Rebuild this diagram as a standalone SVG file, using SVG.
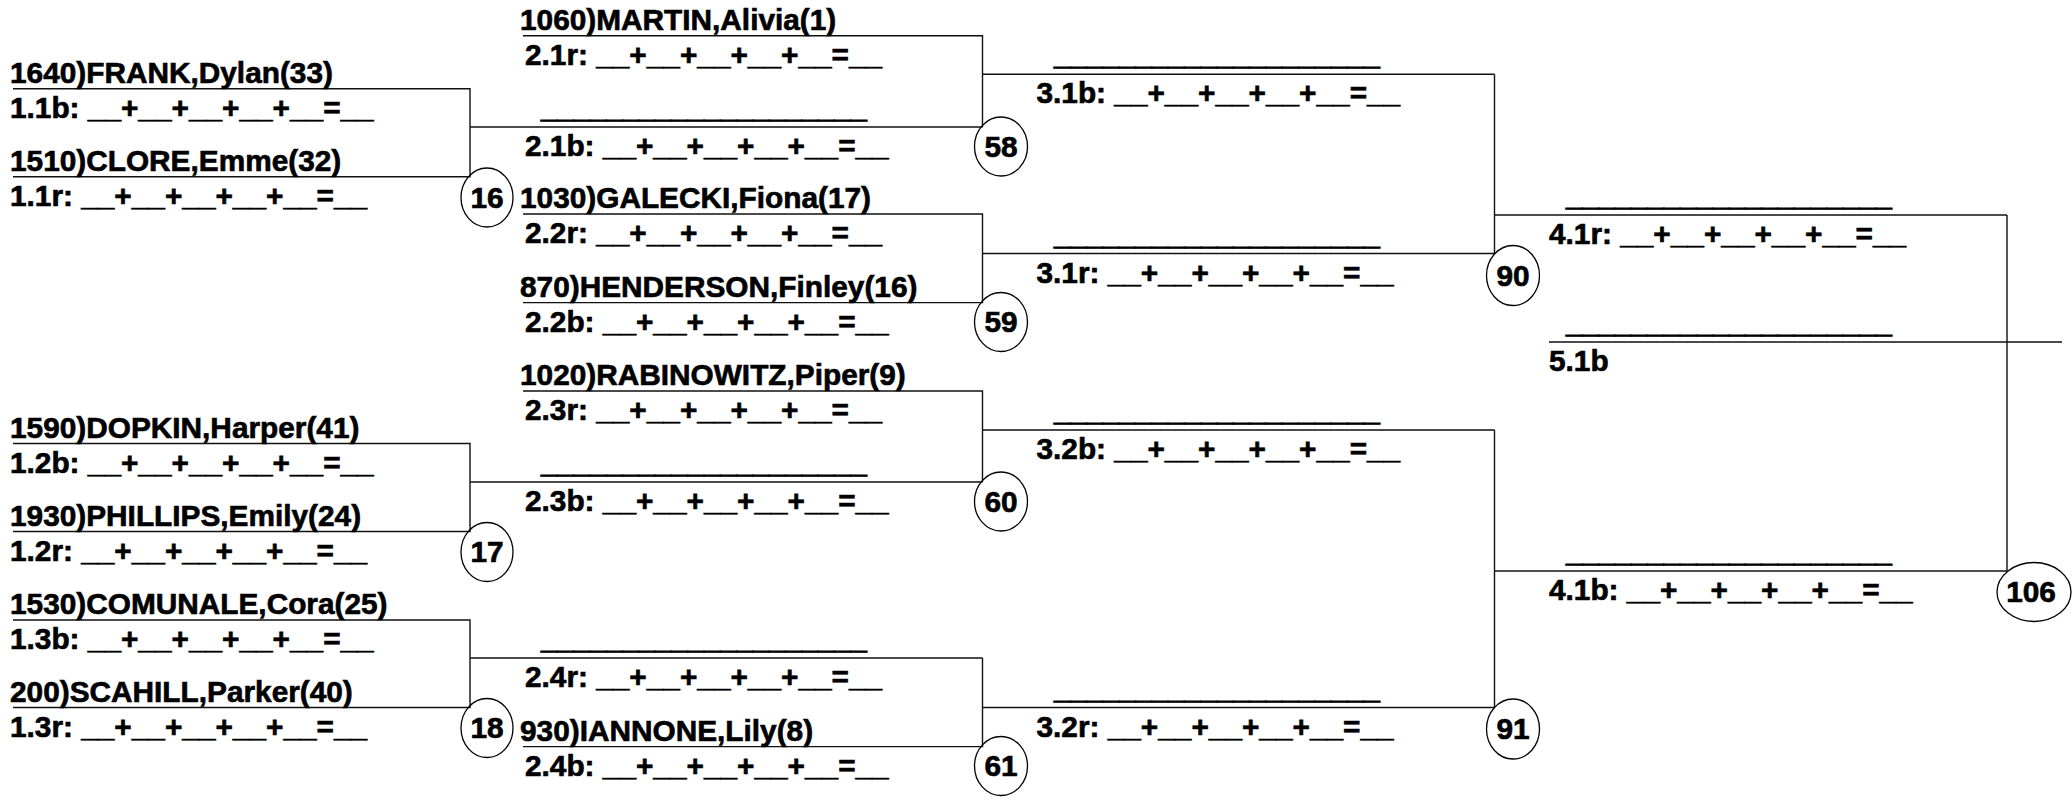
<svg xmlns="http://www.w3.org/2000/svg" width="2072" height="801" viewBox="0 0 2072 801">
<style>
.t{font-family:"Liberation Sans",Arial,sans-serif;font-weight:bold;font-size:29.8px;fill:#000;stroke:#000;stroke-width:0.65}
.u{font-size:29.3px;stroke-width:1.1}
.m{text-anchor:middle}
.ln{stroke:#111;stroke-width:1.4;fill:none}
.c{fill:none;stroke:#000;stroke-width:1.3}
</style>
<rect width="2072" height="801" fill="#fff"/>
<g id="connectors" class="ln">
<path d="M13 88.7H470V176.7H13M470 127H982.5"/>
<path d="M13 443.5H470V531.5H13M470 482H982.5"/>
<path d="M13 620H470V707.5H13M470 658H982.5"/>
<path d="M523 35.7H982.5V127M982.5 74.3H1494.5"/>
<path d="M523 214H982.5V302.6H523M982.5 253.5H1494.5"/>
<path d="M523 391H982.5V482M982.5 430H1494.5"/>
<path d="M982.5 658V746.6H523M982.5 707.5H1494.5"/>
<path d="M1494.5 74.3V253.5M1494.5 215H2007"/>
<path d="M1494.5 430V707.5M1494.5 571H2007"/>
<path d="M2007 215V571M1549 342H2062"/>
</g>
<g id="r1-1-top"><text class="t" x="10" y="82.7">1640)FRANK,Dylan(33)</text><text class="t" x="10" y="118">1.1b: __+__+__+__+__=__</text></g>
<g id="r1-1-bot"><text class="t" x="10" y="170.7">1510)CLORE,Emme(32)</text><text class="t" x="10" y="206">1.1r: __+__+__+__+__=__</text></g>
<g id="r1-2-top"><text class="t" x="10" y="437.5">1590)DOPKIN,Harper(41)</text><text class="t" x="10" y="472.5">1.2b: __+__+__+__+__=__</text></g>
<g id="r1-2-bot"><text class="t" x="10" y="525.5">1930)PHILLIPS,Emily(24)</text><text class="t" x="10" y="560.5">1.2r: __+__+__+__+__=__</text></g>
<g id="r1-3-top"><text class="t" x="10" y="614">1530)COMUNALE,Cora(25)</text><text class="t" x="10" y="649">1.3b: __+__+__+__+__=__</text></g>
<g id="r1-3-bot"><text class="t" x="10" y="701.5">200)SCAHILL,Parker(40)</text><text class="t" x="10" y="736.5">1.3r: __+__+__+__+__=__</text></g>
<g id="m16"><ellipse class="c" cx="487" cy="197.5" rx="26" ry="29.5"/><text class="t m" x="487" y="207.5">16</text></g>
<g id="m17"><ellipse class="c" cx="487" cy="552" rx="26" ry="29.5"/><text class="t m" x="487" y="562">17</text></g>
<g id="m18"><ellipse class="c" cx="487" cy="728" rx="26" ry="29.5"/><text class="t m" x="487" y="738">18</text></g>
<g id="r2-1-top"><text class="t" x="520" y="29.7">1060)MARTIN,Alivia(1)</text><text class="t" x="525" y="64.7">2.1r: __+__+__+__+__=__</text></g>
<g id="r2-1-bot"><text class="t u" x="541" y="118.3">____________________</text><text class="t" x="525" y="156.3">2.1b: __+__+__+__+__=__</text></g>
<g id="r2-2-top"><text class="t" x="520" y="208">1030)GALECKI,Fiona(17)</text><text class="t" x="525" y="243">2.2r: __+__+__+__+__=__</text></g>
<g id="r2-2-bot"><text class="t" x="520" y="296.6">870)HENDERSON,Finley(16)</text><text class="t" x="525" y="331.6">2.2b: __+__+__+__+__=__</text></g>
<g id="r2-3-top"><text class="t" x="520" y="385">1020)RABINOWITZ,Piper(9)</text><text class="t" x="525" y="420">2.3r: __+__+__+__+__=__</text></g>
<g id="r2-3-bot"><text class="t u" x="541" y="473">____________________</text><text class="t" x="525" y="511">2.3b: __+__+__+__+__=__</text></g>
<g id="r2-4-top"><text class="t u" x="541" y="649">____________________</text><text class="t" x="525" y="687">2.4r: __+__+__+__+__=__</text></g>
<g id="r2-4-bot"><text class="t" x="520" y="740.6">930)IANNONE,Lily(8)</text><text class="t" x="525" y="775.6">2.4b: __+__+__+__+__=__</text></g>
<g id="m58"><ellipse class="c" cx="1001" cy="146.5" rx="26.5" ry="29.5"/><text class="t m" x="1001" y="156.5">58</text></g>
<g id="m59"><ellipse class="c" cx="1001" cy="322" rx="26.5" ry="29.5"/><text class="t m" x="1001" y="332">59</text></g>
<g id="m60"><ellipse class="c" cx="1001" cy="501.5" rx="26.5" ry="29.5"/><text class="t m" x="1001" y="511.5">60</text></g>
<g id="m61"><ellipse class="c" cx="1001" cy="766" rx="26.5" ry="29.5"/><text class="t m" x="1001" y="776">61</text></g>
<g id="r3-1-top"><text class="t u" x="1054" y="65.3">____________________</text><text class="t" x="1036.5" y="103.3">3.1b: __+__+__+__+__=__</text></g>
<g id="r3-1-bot"><text class="t u" x="1054" y="244.5">____________________</text><text class="t" x="1036.5" y="282.5">3.1r: __+__+__+__+__=__</text></g>
<g id="r3-2-top"><text class="t u" x="1054" y="421">____________________</text><text class="t" x="1036.5" y="459">3.2b: __+__+__+__+__=__</text></g>
<g id="r3-2-bot"><text class="t u" x="1054" y="698.5">____________________</text><text class="t" x="1036.5" y="736.5">3.2r: __+__+__+__+__=__</text></g>
<g id="m90"><ellipse class="c" cx="1513" cy="275.5" rx="26.5" ry="30"/><text class="t m" x="1513" y="285.5">90</text></g>
<g id="m91"><ellipse class="c" cx="1513" cy="729" rx="26.5" ry="30"/><text class="t m" x="1513" y="739">91</text></g>
<g id="r4-1-top"><text class="t u" x="1566" y="206">____________________</text><text class="t" x="1549" y="244">4.1r: __+__+__+__+__=__</text></g>
<g id="r5-1"><text class="t u" x="1566" y="333">____________________</text><text class="t" x="1549" y="371">5.1b</text></g>
<g id="r4-1-bot"><text class="t u" x="1566" y="562">____________________</text><text class="t" x="1549" y="600">4.1b: __+__+__+__+__=__</text></g>
<g id="m106"><ellipse class="c" cx="2034" cy="592" rx="37" ry="29.5"/><text class="t m" x="2031" y="602">106</text></g>
</svg>
